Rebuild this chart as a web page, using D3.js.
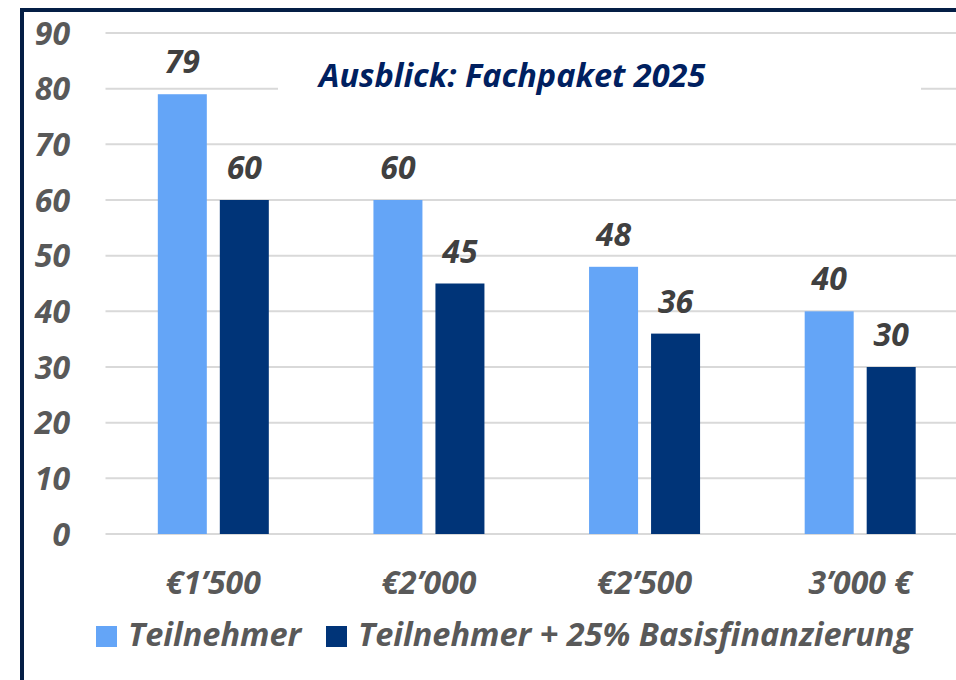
<!DOCTYPE html>
<html>
<head>
<meta charset="utf-8">
<script src="https://cdn.jsdelivr.net/npm/d3@7"></script>
<style>
  body { margin: 0; background: #fff; }
  svg text { font-family: "Open Sans", Lato, sans-serif; font-weight: bold; font-style: italic; }
</style>
</head>
<body>
<svg id="chart" width="956" height="680"></svg>
<script>
// data
var categories = ["€1’500", "€2’000", "€2’500", "3’000 €"];
var seriesNames = ["Teilnehmer", "Teilnehmer + 25% Basisfinanzierung"];
var teilnehmer = [79, 60, 48, 40];
var mitBasis = [60, 45, 36, 30];
var yTicks = [0, 10, 20, 30, 40, 50, 60, 70, 80, 90];
var colors = ["#64A5F7", "#003478"];

var svg = d3.select("#chart");

// outer frame (cut off on right and bottom like the reference)
svg.append("rect")
   .attr("x", 22).attr("y", 10)
   .attr("width", 1000).attr("height", 1000)
   .attr("fill", "none")
   .attr("stroke", "#041E45")
   .attr("stroke-width", 4);

var plotLeft = 105.5, plotRight = 968;
var yTop = 33, yBottom = 534;

var x = d3.scaleBand().domain(categories).range([plotLeft, plotRight]);
var y = d3.scaleLinear().domain([0, 90]).range([yBottom, yTop]);

var barW = 49, barGap = 13;

// gridlines
svg.selectAll(".grid")
   .data(yTicks)
   .enter()
   .append("line")
   .attr("class", "grid")
   .attr("x1", plotLeft).attr("x2", 956)
   .attr("y1", function(d) { return y(d); })
   .attr("y2", function(d) { return y(d); })
   .attr("stroke", "#D9D9D9")
   .attr("stroke-width", 2);

// y tick labels
svg.selectAll(".ylab")
   .data(yTicks)
   .enter()
   .append("text")
   .attr("class", "ylab")
   .attr("x", 70)
   .attr("y", function(d) { return y(d) + 11.5; })
   .attr("text-anchor", "end")
   .attr("fill", "#595959")
   .attr("font-size", 32)
   .text(function(d) { return d; });

// title box (hides the gridline behind it)
svg.append("rect")
   .attr("x", 278).attr("y", 55)
   .attr("width", 643).attr("height", 50)
   .attr("fill", "#fff");

svg.append("text")
   .attr("x", 319).attr("y", 87)
   .attr("fill", "#002060")
   .attr("font-size", 32.5)
   .text("Ausblick: Fachpaket 2025");

var series = [teilnehmer, mitBasis];

series.forEach(function(vals, s) {
  var offset = s === 0 ? -(barGap / 2 + barW) : barGap / 2;
  svg.selectAll(".bar" + s)
     .data(vals)
     .enter()
     .append("rect")
     .attr("x", function(d, i) { return x(categories[i]) + x.bandwidth() / 2 + offset; })
     .attr("y", function(d) { return y(d); })
     .attr("width", barW)
     .attr("height", function(d) { return y(0) - y(d); })
     .attr("fill", colors[s]);

  svg.selectAll(".val" + s)
     .data(vals)
     .enter()
     .append("text")
     .attr("x", function(d, i) { return x(categories[i]) + x.bandwidth() / 2 + offset + barW / 2; })
     .attr("y", function(d) { return y(d) - 21; })
     .attr("text-anchor", "middle")
     .attr("fill", "#404040")
     .attr("font-size", 32)
     .text(function(d) { return d; });
});

// category labels
svg.selectAll(".xlab")
   .data(categories)
   .enter()
   .append("text")
   .attr("x", function(d) { return x(d) + x.bandwidth() / 2; })
   .attr("y", 594)
   .attr("text-anchor", "middle")
   .attr("fill", "#595959")
   .attr("font-size", 32)
   .text(function(d) { return d; });

// legend
var legendX = [96, 326];
seriesNames.forEach(function(name, s) {
  svg.append("rect")
     .attr("x", legendX[s]).attr("y", 626)
     .attr("width", 21).attr("height", 21)
     .attr("fill", colors[s]);
  svg.append("text")
     .attr("x", legendX[s] + 32).attr("y", 646)
     .attr("fill", "#595959")
     .attr("font-size", 32.5)
     .text(name);
});
</script>
</body>
</html>
